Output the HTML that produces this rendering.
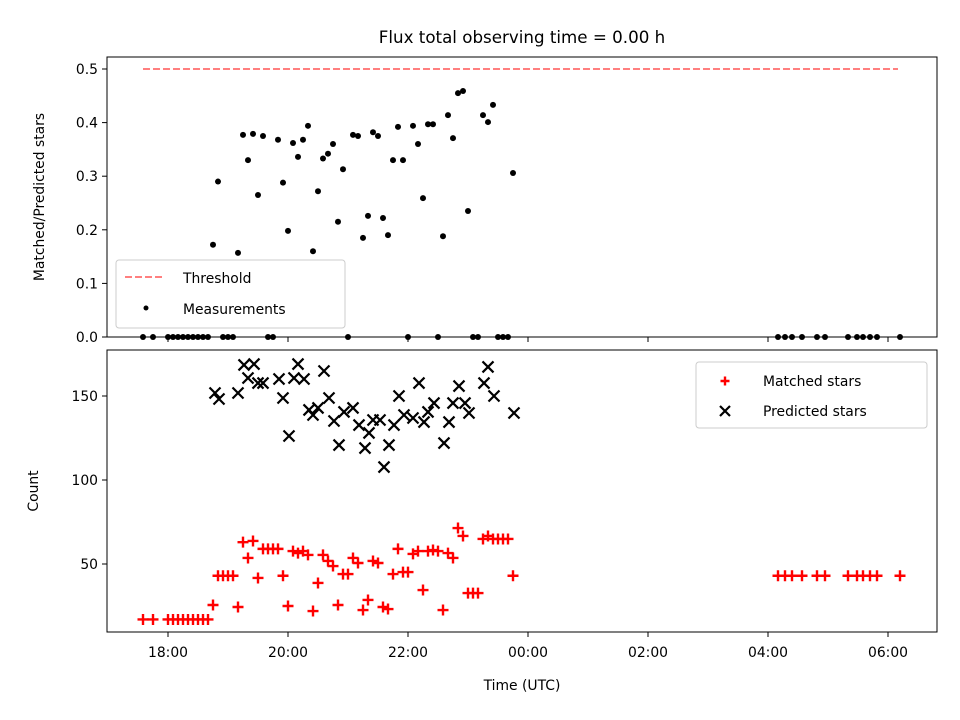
<!DOCTYPE html>
<html><head><meta charset="utf-8"><style>
body{margin:0;background:#fff;}
svg{display:block;font-family:"DejaVu Sans","Liberation Sans",sans-serif;}
</style></head><body>
<svg id="c" width="960" height="720" viewBox="0 0 960 720"></svg>
<script>
// ---- data (times in minutes since 18:00 UTC) ----
const ratioTimes=[45,50,70,75,80,85,90,95,110,115,120,125,130,135,140,145,150,155,160,165,170,175,185,190,195,200,205,210,215,220,225,230,235,245,250,255,260,265,275,280,285,290,295,300,315,320,325,345];
const ratioValues=[0.172,0.29,0.157,0.377,0.33,0.379,0.265,0.375,0.368,0.288,0.198,0.362,0.336,0.368,0.394,0.16,0.272,0.333,0.342,0.36,0.215,0.313,0.377,0.375,0.185,0.226,0.382,0.375,0.222,0.19,0.33,0.392,0.33,0.394,0.36,0.259,0.397,0.397,0.188,0.414,0.371,0.455,0.459,0.235,0.414,0.401,0.433,0.306];
const zeroTimes=[-25,-15,0,5,10,15,20,25,30,35,40,55,60,65,100,105,180,240,270,305,310,330,335,340,610,617,624,634,649,657,680,689,695,702,709,732];
const matchedTimes=[-25,-15,0,5,10,15,20,25,30,35,40,45,50,55,60,65,70,75,80,85,90,95,100,105,110,115,120,125,130,135,140,145,150,155,160,165,170,175,180,185,190,195,200,205,210,215,220,225,230,235,240,245,250,255,260,265,270,275,280,285,290,295,300,305,310,315,320,325,330,335,340,345,610,617,624,634,649,657,680,689,695,702,709,732];
const matchedValues=[17,17,17,17,17,17,17,17,17,17,17,25.6,43,43,43,43,24.4,63,53.6,63.7,41.7,59,59,59,59,43,25,57.7,56.5,57.7,55.4,22,38.7,55.4,51.8,48.8,25.6,44,44,53.6,50.6,22.6,28.6,51.8,50.6,24.4,23.2,44,59,45.2,45.2,56,57.7,34.5,57.7,58.3,57.7,22.6,56.5,53.6,71.4,66.7,32.7,32.7,32.7,64.9,66.7,64.9,64.9,64.9,64.9,43,43,43,43,43,43,43,43,43,43,43,43,43];
const predictedTimes=[47,51,70,76,86,80,90,95,111,115,121,126,130,136,141,145,150,156,161,166,171,176,185,191,197,201,205,212,216,221,226,231,236,245,251,256,260,266,276,281,285,291,297,301,316,320,326,346];
const predictedValues=[151.8,148.2,151.8,168.5,169,160.7,157.7,157.7,160.1,148.8,126.2,160.7,169,160.1,141.7,138.7,142.9,164.9,148.8,135.1,120.8,140.5,142.9,132.7,119,128,135.7,135.7,107.7,120.8,132.7,150,138.7,136.9,157.7,134.5,140.5,145.8,122,134.5,145.8,155.9,145.8,139.9,157.7,167.3,150,139.9];
const threshold=0.5, thrStart=-25, thrEnd=730;
const xTicks=[0,120,240,360,480,600,720];
const xTickLabels=["18:00","20:00","22:00","00:00","02:00","04:00","06:00"];
const topTicks=[0,0.1,0.2,0.3,0.4,0.5];
const botTicks=[50,100,150];

const NS="http://www.w3.org/2000/svg";
const svg=document.getElementById('c');
function mk(t,a,p){const e=document.createElementNS(NS,t);for(const k in a)e.setAttribute(k,a[k]);(p||svg).appendChild(e);return e;}
const X=m=>168+m;
const Yt=v=>337-v*536;
const Yb=v=>564-(v-50)*1.68;
const FS=13.9, TFS=16.7;

let t=mk('text',{x:522,y:43,'text-anchor':'middle','font-size':TFS});
t.textContent="Flux total observing time = 0.00 h";



function frame(y0,y1,name){
  const r=mk('rect',{x:107,y:y0,width:830,height:y1-y0,fill:'none',stroke:'#000','stroke-width':1});
  
  
}
frame(57,337,'top-axes-frame');
frame(350,632,'bottom-axes-frame');

xTicks.forEach((m,i)=>{
  mk('line',{x1:X(m),x2:X(m),y1:337,y2:342,stroke:'#000'});
  mk('line',{x1:X(m),x2:X(m),y1:632,y2:637,stroke:'#000'});
  const l=mk('text',{x:X(m),y:657,'text-anchor':'middle','font-size':FS});
  l.textContent=xTickLabels[i];
  
  
});
topTicks.forEach(v=>{
  mk('line',{x1:102,x2:107,y1:Yt(v),y2:Yt(v),stroke:'#000'});
  const l=mk('text',{x:98,y:Yt(v)+5,'text-anchor':'end','font-size':FS});
  l.textContent=v.toFixed(1);
  
  
});
botTicks.forEach(v=>{
  mk('line',{x1:102,x2:107,y1:Yb(v),y2:Yb(v),stroke:'#000'});
  const l=mk('text',{x:98,y:Yb(v)+5,'text-anchor':'end','font-size':FS});
  l.textContent=String(v);
  
  
});
t=mk('text',{x:0,y:0,'text-anchor':'middle','font-size':FS,transform:'translate(44,197) rotate(-90)'});
t.textContent="Matched/Predicted stars";


t=mk('text',{x:0,y:0,'text-anchor':'middle','font-size':FS,transform:'translate(38,491) rotate(-90)'});
t.textContent="Count";


t=mk('text',{x:522,y:690,'text-anchor':'middle','font-size':FS});
t.textContent="Time (UTC)";



let th=mk('line',{x1:X(thrStart),x2:X(thrEnd),y1:Yt(threshold),y2:Yt(threshold),stroke:'#ff7f7f','stroke-width':2,'stroke-dasharray':'7,3'});



const gTop=mk('g',{});


ratioTimes.forEach((m,i)=>{
  const c=mk('circle',{cx:X(m),cy:Yt(ratioValues[i]),r:3,fill:'#000'},gTop);
  
  
});
zeroTimes.forEach(m=>{
  const c=mk('circle',{cx:X(m),cy:Yt(0),r:3,fill:'#000'},gTop);
  
  
});

function plus(x,y,p,s){return mk('path',{d:`M${x-s} ${y}H${x+s}M${x} ${y-s}V${y+s}`,stroke:'#f00','stroke-width':2.4,fill:'none'},p);}
function cross(x,y,p,s){return mk('path',{d:`M${x-s} ${y-s}L${x+s} ${y+s}M${x-s} ${y+s}L${x+s} ${y-s}`,stroke:'#000','stroke-width':2.2,fill:'none'},p);}
const gM=mk('g',{});


matchedTimes.forEach((m,i)=>{
  const e=plus(X(m),Yb(matchedValues[i]),gM,5.5);
  
  
});
const gP=mk('g',{});


predictedTimes.forEach((m,i)=>{
  const e=cross(X(m),Yb(predictedValues[i]),gP,5.5);
  
  
});

let lg=mk('g',{});


mk('rect',{x:116,y:260,width:229,height:68,rx:3,fill:'#fff','fill-opacity':0.8,stroke:'#ccc'},lg);
mk('line',{x1:125,x2:165,y1:277,y2:277,stroke:'#ff7f7f','stroke-width':2,'stroke-dasharray':'7,3'},lg);
t=mk('text',{x:183,y:283,'font-size':FS},lg);t.textContent="Threshold";


mk('circle',{cx:146,cy:308,r:2.5,fill:'#000'},lg);
t=mk('text',{x:183,y:314,'font-size':FS},lg);t.textContent="Measurements";



lg=mk('g',{});


mk('rect',{x:696,y:362,width:231,height:66,rx:3,fill:'#fff','fill-opacity':0.8,stroke:'#ccc'},lg);
plus(725,381,lg,4.5);
t=mk('text',{x:763,y:386,'font-size':FS},lg);t.textContent="Matched stars";


cross(725,411,lg,5);
t=mk('text',{x:763,y:416,'font-size':FS},lg);t.textContent="Predicted stars";


</script>
</body></html>
